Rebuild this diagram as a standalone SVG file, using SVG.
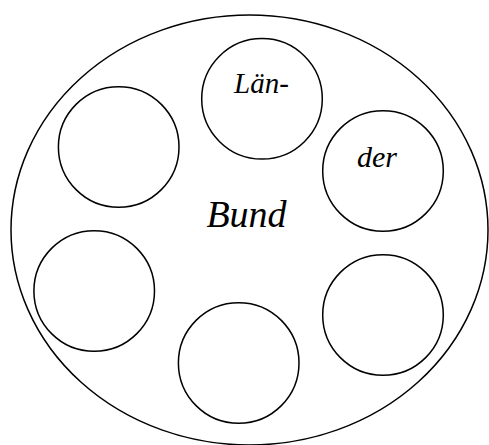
<svg xmlns="http://www.w3.org/2000/svg" width="489" height="445" viewBox="0 0 489 445">
<style>
.s{fill:none;stroke:#000;stroke-width:1.5}
.t{font-family:"Liberation Serif","Times New Roman",serif;font-style:italic;fill:#000;text-anchor:middle}
</style>
<rect width="489" height="445" fill="#fff"/>
<g id="bund">
<ellipse class="s" cx="249.5" cy="230" rx="238.5" ry="215"/>
<text class="t" x="246.5" y="226.5" font-size="38">Bund</text>
</g>
<g id="land1">
<circle class="s" cx="262" cy="98.8" r="60.3"/>
<text class="t" x="261.5" y="92.5" font-size="29">Län-</text>
</g>
<g id="land2">
<circle class="s" cx="383" cy="171" r="60.3"/>
<text class="t" x="377" y="166.5" font-size="30">der</text>
</g>
<g id="land3"><circle class="s" cx="118.7" cy="147" r="60.3"/></g>
<g id="land4"><circle class="s" cx="94.2" cy="291" r="60.3"/></g>
<g id="land5"><circle class="s" cx="238.7" cy="363" r="60.3"/></g>
<g id="land6"><circle class="s" cx="383" cy="315" r="60.3"/></g>
<g id="connectors"></g>
</svg>
